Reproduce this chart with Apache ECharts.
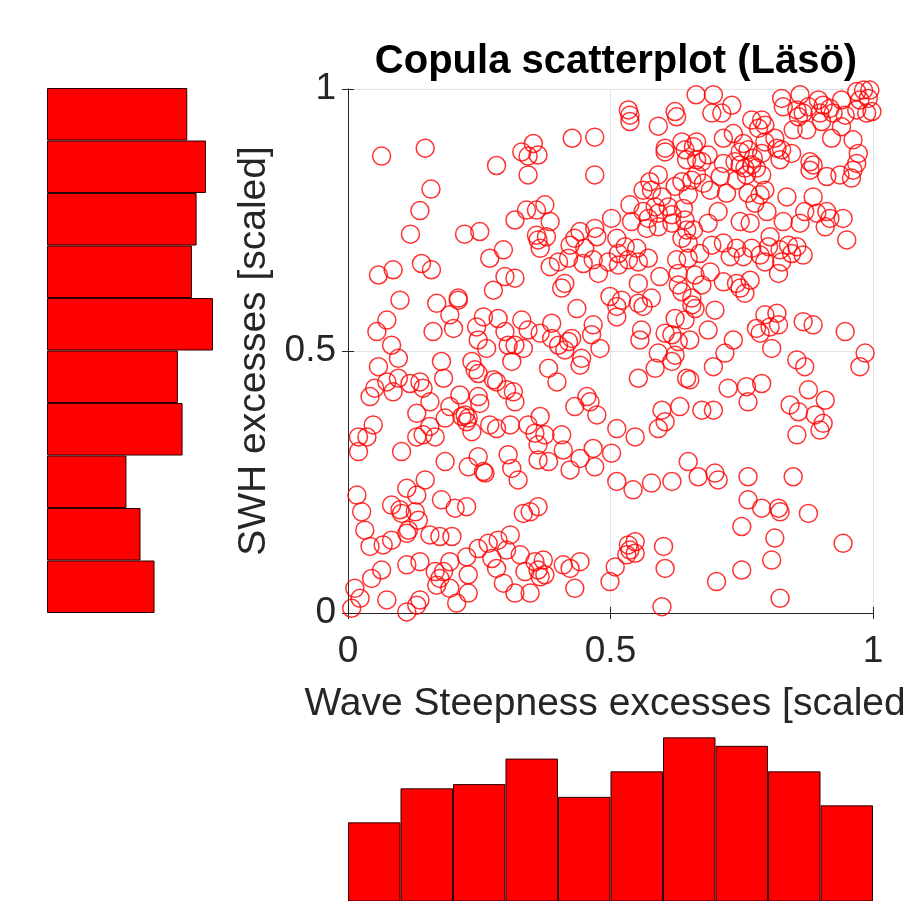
<!DOCTYPE html>
<html lang="en">
<head>
    <meta charset="UTF-8">
    <title>Copula scatterplot</title>
    <style>
        html, body { margin: 0; padding: 0; background: #fff; }
        #div_copula { width: 903px; height: 901px; }
    </style>
</head>
<body>
    <div id="div_copula"></div>
</body>
<script src="https://cdn.jsdelivr.net/npm/echarts@6/dist/echarts.min.js"></script>
<script type="text/javascript">
    // bins of the two marginal histograms
    var binLabels = ['0-0.1', '0.1-0.2', '0.2-0.3', '0.3-0.4', '0.4-0.5', '0.5-0.6', '0.6-0.7', '0.7-0.8', '0.8-0.9', '0.9-1'];
    // SWH excesses histogram (left, bottom bin first)
    var swhCounts = [46, 40, 34, 58, 56, 71, 62, 64, 68, 60];
    // wave steepness excesses histogram (bottom)
    var steepCounts = [46, 54, 55, 61, 52, 58, 66, 64, 58, 50];
    var axisTicks = [0, 0.5, 1];

    // [wave steepness, SWH] scaled excesses
    var copulaPoints = [
        [0.064, 0.872], [0.147, 0.887], [0.283, 0.854], [0.158, 0.809], [0.137, 0.768], [0.119, 0.723],
        [0.222, 0.723], [0.251, 0.728], [0.296, 0.693],
        [0.534, 0.960], [0.537, 0.950], [0.537, 0.938], [0.623, 0.957], [0.626, 0.947], [0.591, 0.929],
        [0.427, 0.906], [0.470, 0.908], [0.470, 0.836], [0.353, 0.896], [0.331, 0.880], [0.343, 0.872],
        [0.362, 0.874], [0.343, 0.836], [0.604, 0.887], [0.604, 0.880], [0.636, 0.899], [0.642, 0.884],
        [0.645, 0.865], [0.591, 0.836], [0.575, 0.823], [0.578, 0.807], [0.562, 0.807], [0.623, 0.814],
        [0.636, 0.823], [0.655, 0.826], [0.598, 0.794], [0.585, 0.775], [0.591, 0.763], [0.610, 0.775],
        [0.617, 0.760], [0.639, 0.772], [0.648, 0.798], [0.537, 0.779], [0.562, 0.766], [0.572, 0.753],
        [0.540, 0.747], [0.569, 0.734], [0.591, 0.737], [0.617, 0.744], [0.642, 0.750], [0.645, 0.731],
        [0.636, 0.715], [0.648, 0.706], [0.502, 0.753], [0.340, 0.769], [0.359, 0.769], [0.375, 0.779],
        [0.385, 0.747], [0.318, 0.750], [0.359, 0.721], [0.362, 0.712], [0.378, 0.718], [0.366, 0.696],
        [0.470, 0.734], [0.442, 0.728], [0.474, 0.718], [0.432, 0.715], [0.423, 0.702], [0.451, 0.696],
        [0.512, 0.715], [0.528, 0.699], [0.515, 0.686], [0.550, 0.696], [0.467, 0.674], [0.496, 0.670],
        [0.663, 0.989], [0.696, 0.989], [0.693, 0.954], [0.712, 0.954], [0.731, 0.969], [0.769, 0.941],
        [0.788, 0.941], [0.794, 0.931], [0.782, 0.925], [0.826, 0.982], [0.829, 0.966], [0.861, 0.989],
        [0.855, 0.960], [0.858, 0.947], [0.867, 0.954], [0.877, 0.966], [0.896, 0.979], [0.905, 0.969],
        [0.918, 0.963], [0.899, 0.954], [0.924, 0.954], [0.902, 0.938], [0.940, 0.979], [0.947, 0.950],
        [0.969, 0.995], [0.982, 0.998], [0.994, 0.998], [0.991, 0.982], [0.975, 0.979], [0.969, 0.960],
        [0.988, 0.954], [0.998, 0.957], [0.848, 0.922], [0.874, 0.922], [0.940, 0.928], [0.921, 0.906],
        [0.962, 0.903], [0.972, 0.877], [0.969, 0.858], [0.962, 0.845], [0.959, 0.830], [0.937, 0.836],
        [0.912, 0.833], [0.880, 0.861], [0.886, 0.855], [0.880, 0.845], [0.836, 0.794], [0.886, 0.794],
        [0.870, 0.766], [0.893, 0.763], [0.912, 0.766], [0.918, 0.753], [0.943, 0.753], [0.950, 0.712],
        [0.909, 0.737], [0.861, 0.744], [0.829, 0.747], [0.798, 0.766], [0.804, 0.718], [0.766, 0.744],
        [0.747, 0.747], [0.715, 0.906], [0.734, 0.915], [0.753, 0.896], [0.747, 0.880], [0.762, 0.884],
        [0.772, 0.868], [0.788, 0.877], [0.794, 0.899], [0.813, 0.906], [0.817, 0.887], [0.826, 0.884],
        [0.845, 0.877], [0.823, 0.865], [0.664, 0.899], [0.658, 0.890], [0.664, 0.865], [0.686, 0.874],
        [0.674, 0.861], [0.715, 0.858], [0.737, 0.861], [0.747, 0.855], [0.756, 0.849], [0.769, 0.855],
        [0.778, 0.849], [0.759, 0.836], [0.788, 0.836], [0.740, 0.826], [0.709, 0.833], [0.664, 0.836],
        [0.677, 0.820], [0.690, 0.807], [0.721, 0.801], [0.762, 0.801], [0.785, 0.798], [0.775, 0.782],
        [0.794, 0.807], [0.705, 0.766], [0.686, 0.744], [0.658, 0.731], [0.693, 0.702], [0.670, 0.686],
        [0.715, 0.706], [0.740, 0.696], [0.728, 0.680], [0.753, 0.680], [0.769, 0.696], [0.785, 0.683],
        [0.801, 0.699], [0.823, 0.693], [0.839, 0.702], [0.845, 0.686], [0.855, 0.699], [0.867, 0.683],
        [0.794, 0.670], [0.826, 0.670],
        [0.058, 0.645], [0.086, 0.655], [0.140, 0.667], [0.159, 0.655], [0.270, 0.677], [0.277, 0.616],
        [0.299, 0.642], [0.318, 0.639], [0.099, 0.597], [0.169, 0.591], [0.210, 0.597], [0.210, 0.601],
        [0.194, 0.569], [0.074, 0.559], [0.055, 0.537], [0.162, 0.537], [0.201, 0.543], [0.258, 0.565],
        [0.245, 0.546], [0.286, 0.562], [0.248, 0.521], [0.264, 0.505], [0.299, 0.537], [0.305, 0.511],
        [0.318, 0.511], [0.331, 0.559], [0.083, 0.511], [0.096, 0.486], [0.058, 0.470], [0.178, 0.480],
        [0.182, 0.448], [0.236, 0.480], [0.242, 0.464], [0.248, 0.457], [0.277, 0.445], [0.283, 0.441],
        [0.312, 0.480], [0.315, 0.422], [0.318, 0.403], [0.302, 0.426], [0.051, 0.429], [0.042, 0.413],
        [0.074, 0.441], [0.096, 0.448], [0.086, 0.422], [0.118, 0.438], [0.137, 0.441], [0.143, 0.429],
        [0.156, 0.403], [0.131, 0.381], [0.194, 0.394], [0.213, 0.416], [0.248, 0.413], [0.251, 0.400],
        [0.217, 0.375], [0.223, 0.378], [0.229, 0.372], [0.226, 0.365], [0.185, 0.372], [0.156, 0.356],
        [0.236, 0.346], [0.270, 0.359], [0.283, 0.352], [0.309, 0.359], [0.048, 0.359], [0.020, 0.336],
        [0.036, 0.336], [0.166, 0.336], [0.143, 0.340],
        [0.385, 0.661], [0.401, 0.670], [0.420, 0.677], [0.448, 0.667], [0.477, 0.648], [0.515, 0.664],
        [0.534, 0.674], [0.553, 0.670], [0.572, 0.677], [0.626, 0.674], [0.648, 0.677], [0.594, 0.642],
        [0.629, 0.648], [0.661, 0.645], [0.407, 0.620], [0.413, 0.629], [0.436, 0.581], [0.499, 0.604],
        [0.521, 0.597], [0.512, 0.585], [0.512, 0.565], [0.553, 0.629], [0.553, 0.591], [0.562, 0.585],
        [0.578, 0.601], [0.629, 0.626], [0.636, 0.613], [0.655, 0.601], [0.655, 0.588], [0.661, 0.581],
        [0.623, 0.562], [0.642, 0.559], [0.343, 0.540], [0.388, 0.553], [0.366, 0.534], [0.334, 0.505],
        [0.388, 0.524], [0.401, 0.511], [0.420, 0.518], [0.426, 0.524], [0.413, 0.502], [0.467, 0.550],
        [0.464, 0.531], [0.480, 0.505], [0.445, 0.486], [0.442, 0.473], [0.382, 0.467], [0.398, 0.441],
        [0.559, 0.540], [0.556, 0.521], [0.604, 0.534], [0.617, 0.531], [0.629, 0.518], [0.651, 0.521],
        [0.591, 0.496], [0.623, 0.492], [0.617, 0.480], [0.585, 0.467], [0.553, 0.448], [0.645, 0.448],
        [0.432, 0.394], [0.455, 0.413], [0.461, 0.403], [0.474, 0.378], [0.512, 0.352], [0.547, 0.336],
        [0.598, 0.387], [0.632, 0.394], [0.604, 0.365], [0.591, 0.352], [0.366, 0.375], [0.343, 0.359],
        [0.356, 0.343], [0.375, 0.340], [0.407, 0.340],
        [0.690, 0.651], [0.674, 0.626], [0.715, 0.632], [0.740, 0.629], [0.747, 0.620], [0.756, 0.610],
        [0.766, 0.635], [0.820, 0.648], [0.699, 0.578], [0.686, 0.540], [0.734, 0.521], [0.718, 0.496],
        [0.696, 0.470], [0.794, 0.569], [0.817, 0.572], [0.820, 0.550], [0.778, 0.543], [0.785, 0.534],
        [0.804, 0.546], [0.807, 0.505], [0.867, 0.556], [0.886, 0.550], [0.947, 0.537], [0.985, 0.496],
        [0.975, 0.470], [0.855, 0.483], [0.870, 0.470], [0.651, 0.445], [0.724, 0.429], [0.759, 0.432],
        [0.788, 0.438], [0.762, 0.403], [0.877, 0.426], [0.909, 0.406], [0.842, 0.397], [0.858, 0.384],
        [0.890, 0.378], [0.905, 0.362], [0.899, 0.349], [0.674, 0.387], [0.696, 0.387], [0.855, 0.340],
        [0.020, 0.308], [0.102, 0.308], [0.131, 0.336], [0.305, 0.302], [0.185, 0.289], [0.229, 0.279],
        [0.248, 0.298], [0.258, 0.270], [0.261, 0.267], [0.312, 0.276], [0.324, 0.254], [0.147, 0.254],
        [0.112, 0.238], [0.131, 0.225], [0.017, 0.225], [0.178, 0.216], [0.204, 0.200], [0.226, 0.203],
        [0.083, 0.206], [0.099, 0.197], [0.102, 0.190], [0.128, 0.193], [0.134, 0.177], [0.026, 0.193],
        [0.032, 0.158], [0.112, 0.152], [0.115, 0.158], [0.156, 0.149], [0.175, 0.146], [0.198, 0.146],
        [0.042, 0.127], [0.067, 0.130], [0.083, 0.139], [0.334, 0.190], [0.248, 0.123], [0.267, 0.133],
        [0.286, 0.139], [0.309, 0.149], [0.302, 0.120], [0.328, 0.111], [0.226, 0.107], [0.274, 0.104],
        [0.283, 0.085], [0.194, 0.098], [0.137, 0.098], [0.112, 0.092], [0.064, 0.082], [0.045, 0.066],
        [0.166, 0.079], [0.182, 0.079], [0.175, 0.066], [0.169, 0.053], [0.194, 0.047], [0.229, 0.073],
        [0.229, 0.038], [0.296, 0.057], [0.318, 0.038], [0.013, 0.047], [0.023, 0.028], [0.007, 0.009],
        [0.074, 0.025], [0.112, 0.002], [0.131, 0.015], [0.137, 0.025], [0.207, 0.019],
        [0.362, 0.321], [0.410, 0.311], [0.442, 0.295], [0.467, 0.314], [0.502, 0.305], [0.362, 0.292],
        [0.382, 0.289], [0.423, 0.273], [0.470, 0.279], [0.512, 0.251], [0.543, 0.235], [0.578, 0.248],
        [0.617, 0.251], [0.648, 0.289], [0.667, 0.260], [0.347, 0.193], [0.362, 0.203], [0.356, 0.098],
        [0.372, 0.101], [0.337, 0.079], [0.362, 0.082], [0.366, 0.069], [0.375, 0.073], [0.410, 0.092],
        [0.423, 0.085], [0.442, 0.098], [0.432, 0.047], [0.347, 0.038], [0.509, 0.088], [0.499, 0.060],
        [0.534, 0.130], [0.547, 0.136], [0.537, 0.120], [0.531, 0.111], [0.547, 0.114], [0.601, 0.127],
        [0.604, 0.085], [0.598, 0.012],
        [0.699, 0.267], [0.705, 0.254], [0.762, 0.260], [0.848, 0.260], [0.762, 0.216], [0.788, 0.200],
        [0.820, 0.200], [0.823, 0.193], [0.877, 0.190], [0.750, 0.165], [0.813, 0.143], [0.943, 0.133],
        [0.807, 0.101], [0.750, 0.082], [0.702, 0.060], [0.823, 0.028]
    ];

    var textColor = '#262626';
    var fontName = 'Liberation Sans, Arial, sans-serif';

    function hiddenAxis(gridIndex, type, extra) {
        var axis = {
            gridIndex: gridIndex,
            type: type,
            show: false
        };
        for (var k in extra) { axis[k] = extra[k]; }
        return axis;
    }

    function boxAxis(position, gridIndex, showLabel) {
        return {
            gridIndex: gridIndex,
            type: 'value',
            position: position,
            min: 0,
            max: 1,
            interval: 0.5,
            axisLine: { show: true, lineStyle: { color: textColor, width: 1 } },
            axisTick: { show: true, inside: true, length: 6, lineStyle: { color: textColor } },
            axisLabel: {
                show: showLabel,
                color: textColor,
                fontSize: 37,
                fontFamily: fontName,
                margin: (position === 'bottom') ? 20 : 12,
                formatter: function (v) { return axisTicks.indexOf(v) >= 0 ? String(v) : ''; }
            },
            splitLine: { show: showLabel, lineStyle: { color: '#e3e3e3', width: 1 } }
        };
    }

    function copula() {
        var xMain = boxAxis('bottom', 0, true);
        xMain.name = 'Wave Steepness excesses [scaled]';
        xMain.nameLocation = 'middle';
        xMain.nameGap = 72;
        xMain.nameTextStyle = { color: textColor, fontSize: 39, fontFamily: fontName };

        var yMain = boxAxis('left', 0, true);
        yMain.name = 'SWH excesses [scaled]';
        yMain.nameLocation = 'middle';
        yMain.nameGap = 74;
        yMain.nameTextStyle = { color: textColor, fontSize: 39, fontFamily: fontName };

        var histStyle = { color: '#ff0000', borderColor: '#2a0000', borderWidth: 1 };

        var option = {
            animation: false,
            backgroundColor: '#ffffff',
            title: {
                text: 'Copula scatterplot (Läsö)',
                left: 611,
                textAlign: 'center',
                top: 37,
                textStyle: { color: '#000', fontSize: 40, fontWeight: 'bold', fontFamily: fontName }
            },
            grid: [
                { left: 348, top: 89, width: 525, height: 524, outerBoundsMode: 'none' },
                { left: 47, top: 88, width: 187, height: 525, outerBoundsMode: 'none' },
                { left: 348, top: 725, width: 525, bottom: 0, outerBoundsMode: 'none' }
            ],
            xAxis: [
                xMain,
                boxAxis('top', 0, false),
                hiddenAxis(1, 'value', { min: 0, max: 80 }),
                hiddenAxis(2, 'category', { data: binLabels })
            ],
            yAxis: [
                yMain,
                boxAxis('right', 0, false),
                hiddenAxis(1, 'category', { data: binLabels }),
                hiddenAxis(2, 'value', { min: 27.5, max: 68.9 })
            ],
            series: [
                {
                    name: 'copula',
                    type: 'scatter',
                    xAxisIndex: 0,
                    yAxisIndex: 0,
                    symbol: 'circle',
                    symbolSize: 18,
                    itemStyle: { color: 'rgba(0,0,0,0)', borderColor: '#ff0000', borderWidth: 1.5 },
                    data: copulaPoints,
                    clip: false
                },
                {
                    name: 'SWH',
                    type: 'bar',
                    xAxisIndex: 2,
                    yAxisIndex: 2,
                    barCategoryGap: '0%',
                    itemStyle: histStyle,
                    data: swhCounts
                },
                {
                    name: 'Steepness',
                    type: 'bar',
                    xAxisIndex: 3,
                    yAxisIndex: 3,
                    barCategoryGap: '0%',
                    itemStyle: histStyle,
                    data: steepCounts
                }
            ]
        };
        var echart = echarts.init(document.getElementById('div_copula'), null, { renderer: 'canvas' });
        echart.setOption(option);
    }

    window.onload = function () {
        copula();
    };
</script>
</html>
